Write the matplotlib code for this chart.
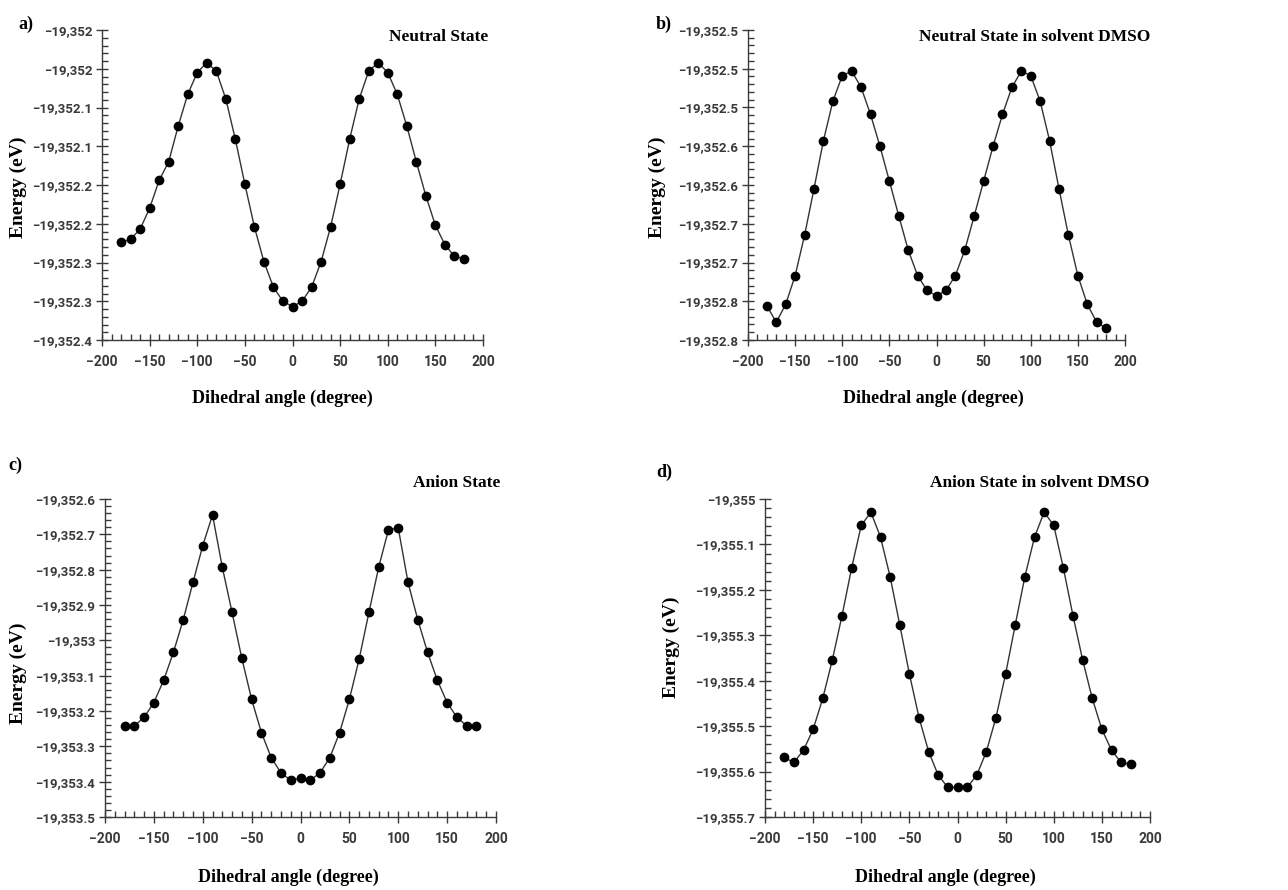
import numpy as np
import matplotlib.pyplot as plt
from matplotlib.ticker import FixedLocator, FixedFormatter, MultipleLocator

# dihedral angle scan, -180..180 every 10 degree
angle = list(range(-180, 181, 10))

# energies (eV)
e_neutral = [-19352.274, -19352.270, -19352.257, -19352.230, -19352.194, -19352.170,
             -19352.124, -19352.083, -19352.055, -19352.042, -19352.053, -19352.089,
             -19352.141, -19352.199, -19352.254, -19352.299, -19352.332, -19352.350,
             -19352.357, -19352.350, -19352.332, -19352.299, -19352.254, -19352.199,
             -19352.141, -19352.089, -19352.053, -19352.042, -19352.055, -19352.083,
             -19352.124, -19352.170, -19352.214, -19352.252, -19352.277, -19352.292,
             -19352.295]
e_neutral_dmso = [-19352.806, -19352.827, -19352.804, -19352.767, -19352.715, -19352.655,
                  -19352.593, -19352.542, -19352.509, -19352.503, -19352.524, -19352.559,
                  -19352.600, -19352.645, -19352.690, -19352.734, -19352.767, -19352.786,
                  -19352.793, -19352.786, -19352.767, -19352.734, -19352.690, -19352.645,
                  -19352.600, -19352.559, -19352.524, -19352.503, -19352.509, -19352.542,
                  -19352.593, -19352.655, -19352.715, -19352.767, -19352.804, -19352.827,
                  -19352.835]
e_anion = [-19353.242, -19353.242, -19353.218, -19353.176, -19353.113, -19353.034,
           -19352.942, -19352.836, -19352.732, -19352.645, -19352.793, -19352.921,
           -19353.051, -19353.167, -19353.261, -19353.332, -19353.375, -19353.396,
           -19353.390, -19353.396, -19353.375, -19353.332, -19353.261, -19353.167,
           -19353.053, -19352.921, -19352.793, -19352.687, -19352.682, -19352.836,
           -19352.942, -19353.034, -19353.113, -19353.176, -19353.218, -19353.242,
           -19353.242]
e_anion_dmso = [-19355.569, -19355.580, -19355.553, -19355.507, -19355.439, -19355.354,
                -19355.257, -19355.152, -19355.058, -19355.029, -19355.084, -19355.171,
                -19355.277, -19355.385, -19355.481, -19355.556, -19355.608, -19355.635,
                -19355.635, -19355.635, -19355.608, -19355.556, -19355.481, -19355.385,
                -19355.277, -19355.171, -19355.084, -19355.029, -19355.058, -19355.152,
                -19355.257, -19355.354, -19355.439, -19355.507, -19355.553, -19355.580,
                -19355.584]

# y ticks and the (rounded) labels as printed in the figure
yt_a = [-19352.40, -19352.35, -19352.30, -19352.25, -19352.20, -19352.15, -19352.10, -19352.05, -19352.00]
yl_a = ['−19,352.4', '−19,352.3', '−19,352.3', '−19,352.2', '−19,352.2', '−19,352.1', '−19,352.1', '−19,352', '−19,352']
yt_b = [-19352.85, -19352.80, -19352.75, -19352.70, -19352.65, -19352.60, -19352.55, -19352.50, -19352.45]
yl_b = ['−19,352.8', '−19,352.8', '−19,352.7', '−19,352.7', '−19,352.6', '−19,352.6', '−19,352.5', '−19,352.5', '−19,352.5']
yt_c = [-19353.5, -19353.4, -19353.3, -19353.2, -19353.1, -19353.0, -19352.9, -19352.8, -19352.7, -19352.6]
yl_c = ['−19,353.5', '−19,353.4', '−19,353.3', '−19,353.2', '−19,353.1', '−19,353', '−19,352.9', '−19,352.8', '−19,352.7', '−19,352.6']
yt_d = [-19355.7, -19355.6, -19355.5, -19355.4, -19355.3, -19355.2, -19355.1, -19355.0]
yl_d = ['−19,355.7', '−19,355.6', '−19,355.5', '−19,355.4', '−19,355.3', '−19,355.2', '−19,355.1', '−19,355']
xt = [-200, -150, -100, -50, 0, 50, 100, 150, 200]
xl = ['−200', '−150', '−100', '−50', '0', '50', '100', '150', '200']

titles = ['Neutral State', 'Neutral State in solvent DMSO', 'Anion State', 'Anion State in solvent DMSO']
letters = ['a)', 'b)', 'c)', 'd)']

W, H = 1288, 890
fig = plt.figure(figsize=(W / 100, H / 100), dpi=100)

def px(x, y):
    return x / W, 1 - y / H

serif = 'Liberation Serif'
xtick_font = {'family': 'Roboto', 'weight': 'bold', 'size': 10}
ytick_font = {'family': 'Roboto', 'weight': 'bold', 'size': 9.5}
gray = '#3a3a3a'

# panel boxes in pixels: left, top, right, bottom
boxes = [(102, 30, 483, 340), (748, 30, 1125, 340), (105, 499, 496, 817), (765, 499, 1150, 817)]
datas = [e_neutral, e_neutral_dmso, e_anion, e_anion_dmso]
yticks = [(yt_a, yl_a, 0.01), (yt_b, yl_b, 0.01), (yt_c, yl_c, 0.02), (yt_d, yl_d, 0.02)]
title_pos = [(488, 37), (1150, 37), (500, 483), (1150, 483)]
letter_pos = [(18, 24), (656, 24), (8, 465), (656, 472)]
ylab_pos = [(18, 187), (657, 187), (18, 673), (671, 647)]
xlab_pos = [(282, 398), (933, 398), (288, 877), (945, 877)]

for i in range(4):
    l, t, r, b = boxes[i]
    ax = fig.add_axes([l / W, 1 - b / H, (r - l) / W, (b - t) / H])
    ax.plot(angle, datas[i], '-', color='#333333', lw=1.0, marker='o', ms=6,
            mfc='black', mec='black')
    ticks, labels, minor = yticks[i]
    ax.set_ylim(ticks[0], ticks[-1])
    ax.yaxis.set_major_locator(FixedLocator(ticks))
    ax.yaxis.set_major_formatter(FixedFormatter(labels))
    ax.yaxis.set_minor_locator(MultipleLocator(minor))
    ax.set_xticks(xt)
    ax.set_xticklabels(xl)
    ax.xaxis.set_minor_locator(MultipleLocator(10))
    ax.set_xlim(-200, 200)
    for s in ['top', 'right']:
        ax.spines[s].set_visible(False)
    for s in ['left', 'bottom']:
        ax.spines[s].set_color(gray)
        ax.spines[s].set_linewidth(1.0)
    ax.tick_params(which='major', direction='inout', length=8, width=1.0, color=gray,
                   labelcolor=gray)
    ax.tick_params(axis='x', which='major', pad=7)
    ax.tick_params(axis='y', which='major', pad=3)
    ax.tick_params(which='minor', direction='in', length=4, width=1.0, color=gray)
    for lab in ax.get_xticklabels():
        lab.set_fontproperties(xtick_font)
        lab.set_color(gray)
    for lab in ax.get_yticklabels():
        lab.set_fontproperties(ytick_font)
        lab.set_color(gray)

    x, y = title_pos[i]
    fig.text(*px(x, y), titles[i], ha='right', va='center', family=serif,
             weight='bold', size=12.5)
    x, y = letter_pos[i]
    fig.text(*px(x, y), letters[i], ha='left', va='center', family=serif,
             weight='bold', size=13)
    x, y = ylab_pos[i]
    fig.text(*px(x, y), 'Energy (eV)', ha='center', va='center', rotation=90,
             family=serif, weight='bold', size=14)
    x, y = xlab_pos[i]
    fig.text(*px(x, y), 'Dihedral angle (degree)', ha='center', va='center',
             family=serif, weight='bold', size=13)

fig.savefig('out.png', dpi=100)
